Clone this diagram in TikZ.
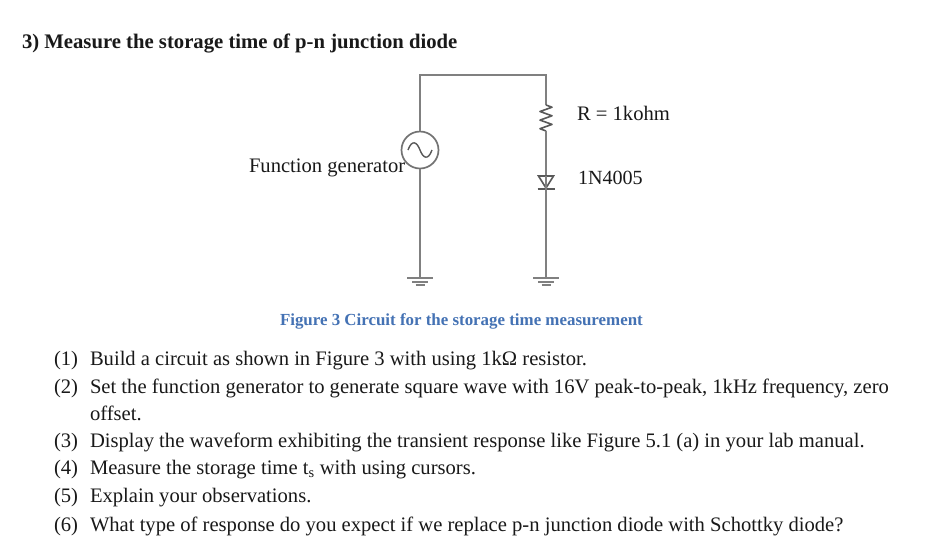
\documentclass[tikz,border=0pt]{standalone}
\usepackage{fontspec}
\setmainfont{Liberation Serif}
\usetikzlibrary{calc}
\tikzset{
  wire/.style={draw=black!50,line width=2.2pt},
  dark/.style={draw=black!65,line width=1.6pt},
  txt/.style={anchor=base west,inner sep=0pt,outer sep=0pt,text=black!90,font=\fontsize{20.6}{22}\selectfont},
  num/.style={txt},
  head/.style={txt,font=\fontsize{20.7}{22}\selectfont\bfseries},
  figcap/.style={txt,text={rgb,255:red,68;green,114;blue,180},font=\fontsize{16.9}{18}\selectfont\bfseries},
  src/.style={circle,draw=black!55,line width=1.7pt,minimum size=37pt,inner sep=0pt},
}
\begin{document}
\begin{tikzpicture}[x=1pt,y=-1pt]
\useasboundingbox[fill=white] (0,0) rectangle (938,550);
\node[head] (title) at (22,48) {3) Measure the storage time of p-n junction diode};
% circuit
\coordinate (tl) at (420,75);
\coordinate (tr) at (546,75);
\coordinate (rt) at (546,105);
\coordinate (rb) at (546,131);
\coordinate (dt) at (546,176);
\coordinate (db) at (546,188);
\coordinate (g1) at (420,278);
\coordinate (g2) at (546,278);
\node[txt] (fg) at (249,172) {Function generator};
\node[src] (gen) at (420,150) {};
\draw[black!65,line width=1.4pt] ($(gen)+(-12,0)$) .. controls ($(gen)+(-8,-11)$) and ($(gen)+(-3,-8)$) .. ($(gen)$) .. controls ($(gen)+(3,8)$) and ($(gen)+(8,11)$) .. ($(gen)+(12,0)$);
\draw[wire,line join=miter] (gen.north) -- (tl) -- (tr) -- (rt);
\draw[dark,line join=round] (rt) -- ++(6,2.2) -- ++(-12,4.3) -- ++(12,4.3) -- ++(-12,4.3) -- ++(12,4.3) -- ++(-12,4.3) -- (rb);
\draw[wire] (rb) -- (dt);
\draw[dark,line join=miter] (538.5,176) -- (553.5,176) -- (db) -- cycle;
\draw[dark,line width=1.8pt] (537.5,189) -- (554.5,189);
\draw[wire] (dt) -- (g2);
\draw[wire] (gen.south) -- (g1);
\foreach \g in {g1,g2}{
  \draw[wire,line width=1.7pt] ($(\g)+(-13,0)$) -- ($(\g)+(13,0)$);
  \draw[wire,line width=1.6pt] ($(\g)+(-8,4)$) -- ($(\g)+(8,4)$);
  \draw[wire,line width=1.6pt] ($(\g)+(-4.5,7)$) -- ($(\g)+(4.5,7)$);
}
\node[txt] (r) at (577,120) {R = 1kohm};
\node[txt,font=\fontsize{20.1}{22}\selectfont] (d) at (578,184) {1N4005};
\node[figcap] (c) at (280,325) {Figure 3 Circuit for the storage time measurement};
% list
\node[num] (n1) at (54,365) {(1)};
\node[txt] (l1) at (90,365) {Build a circuit as shown in Figure 3 with using 1kΩ resistor.};
\node[num] (n2) at (54,393) {(2)};
\node[txt] (l2) at (90,393) {Set the function generator to generate square wave with 16V peak-to-peak, 1kHz frequency, zero};
\node[txt] (l2b) at (90,420) {offset.};
\node[num] (n3) at (54,447) {(3)};
\node[txt] (l3) at (90,447) {Display the waveform exhibiting the transient response like Figure 5.1 (a) in your lab manual.};
\node[num] (n4) at (54,474) {(4)};
\node[txt] (l4) at (90,474) {Measure the storage time t\textsubscript{s} with using cursors.};
\node[num] (n5) at (54,502) {(5)};
\node[txt] (l5) at (90,502) {Explain your observations.};
\node[num] (n6) at (54,531) {(6)};
\node[txt] (l6) at (90,531) {What type of response do you expect if we replace p-n junction diode with Schottky diode?};
\end{tikzpicture}
\end{document}
